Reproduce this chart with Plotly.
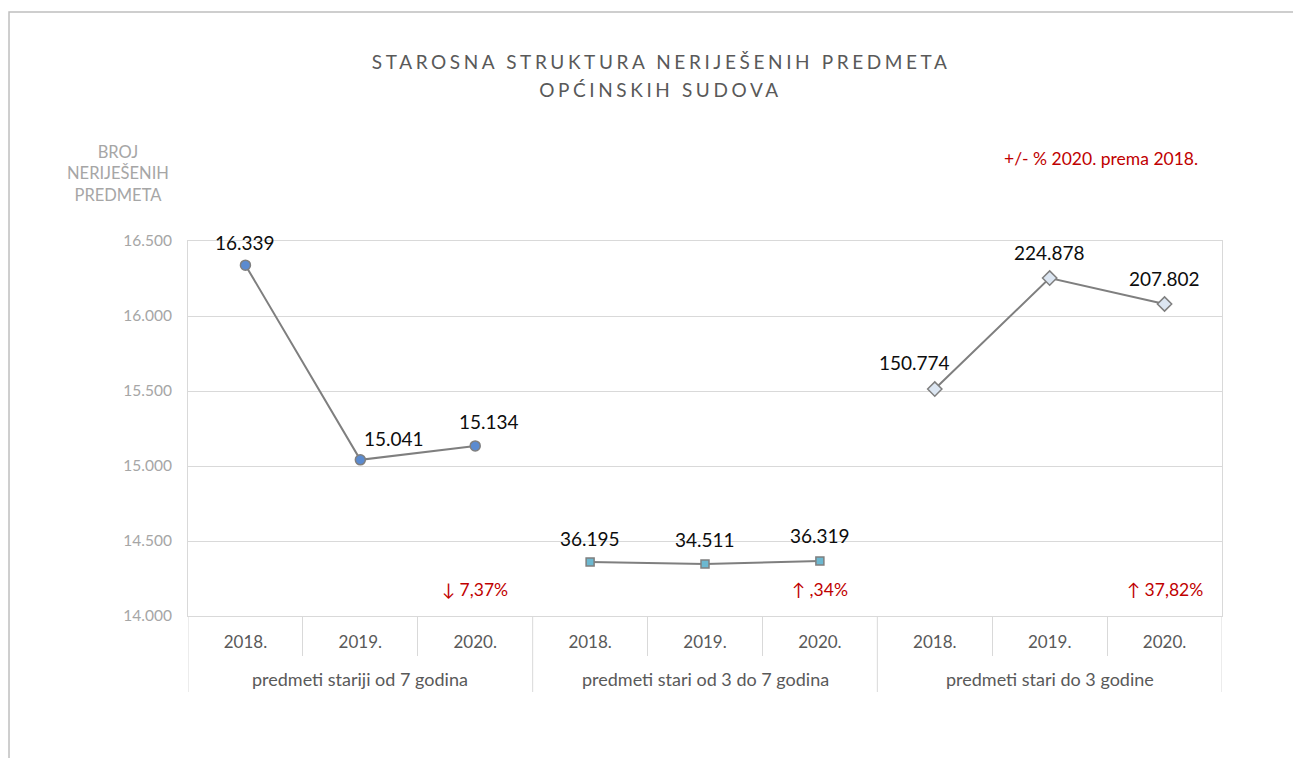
import plotly.graph_objects as go

# category structure
groups = ["predmeti stariji od 7 godina", "predmeti stari od 3 do 7 godina", "predmeti stari do 3 godine"]
years = ["2018.", "2019.", "2020."]

# plotted positions and the printed data labels
stariji_7_y = [16339, 15041, 15134]
stari_3_7_y = [14360, 14347, 14367]
do_3_y = [15513, 16253, 16080]
stariji_7_labels = ["16.339", "15.041", "15.134"]
stari_3_7_labels = ["36.195", "34.511", "36.319"]
do_3_labels = ["150.774", "224.878", "207.802"]
changes = ["\u2193 7,37%", "\u2191 ,34%", "\u2191 37,82%"]
change_level = 14180

LINE_GREY = "#7F7F7F"
GRID = "#D9D9D9"
FONT = "Lato"

fig = go.Figure()

series = [
    (stariji_7_y, stariji_7_labels, "circle", 10, "#5B8BD0", [(0, 23), (34, 21), (14, 24)]),
    (stari_3_7_y, stari_3_7_labels, "square", 8, "#6CB8D0", [(0, 24), (0, 24), (0, 25)]),
    (do_3_y, do_3_labels, "diamond", 11, "#DCE6F2", [(-20, 27), (0, 26), (0, 26)]),
]

n_years = len(years)
for g, (ys, labels, symbol, size, fill, shifts) in enumerate(series):
    xs = [g * n_years + i for i in range(n_years)]
    fig.add_trace(go.Scatter(
        x=xs, y=ys, mode="lines+markers",
        line=dict(color=LINE_GREY, width=2),
        marker=dict(symbol=symbol, size=size, color=fill, line=dict(color=LINE_GREY, width=1.5)),
        showlegend=False, hoverinfo="skip",
    ))
    # data labels
    for x, y, lab, (dx, dy) in zip(xs, ys, labels, shifts):
        fig.add_annotation(x=x, y=y, text=lab, showarrow=False, xshift=dx, yshift=dy,
                           xanchor="center", yanchor="middle",
                           font=dict(family=FONT, size=19, color="#0D0D0D"))
    # red change note under the 2020 point
    fig.add_annotation(x=xs[-1], y=change_level, text=changes[g], showarrow=False,
                       xanchor="center", yanchor="middle",
                       font=dict(family=FONT, size=17.5, color="#C00000"))
    # group label under the years
    fig.add_annotation(x=xs[1], y=0, xref="x", yref="paper", yshift=-63, text=groups[g],
                       xanchor="center", yanchor="middle", showarrow=False,
                       font=dict(family=FONT, size=18, color="#595959"))

n_cat = len(groups) * n_years
boundaries = [i - 0.5 for i in range(n_cat + 1)]
group_bounds = [b for i, b in enumerate(boundaries) if i % n_years == 0]
year_bounds = [b for i, b in enumerate(boundaries) if i % n_years != 0]

for b in group_bounds:
    fig.add_shape(type="line", xref="x", yref="paper", x0=b, x1=b, y0=0, y1=-76 / 375,
                  line=dict(color=GRID, width=1))

# outer chart frame
fig.add_shape(type="rect", xref="paper", yref="paper", x0=-0.1731, x1=1.1, y0=1.6107, y1=-0.45,
              line=dict(color="#BFBFBF", width=1.5))

# titles
for txt, ty in [("STAROSNA STRUKTURA NERIJEŠENIH PREDMETA", 1.48), ("OPĆINSKIH SUDOVA", 1.4027)]:
    fig.add_annotation(x=0.4574, y=ty, xref="paper", yref="paper", text=txt, showarrow=False,
                       xanchor="center", yanchor="middle",
                       font=dict(family=FONT, size=19, color="#595959"))
fig.add_annotation(x=-0.068, y=1.181, xref="paper", yref="paper", text="BROJ<br>NERIJEŠENIH<br>PREDMETA",
                   xanchor="center", yanchor="middle", showarrow=False,
                   font=dict(family=FONT, size=16.5, color="#A6A6A6"))
fig.add_annotation(x=0.9787, y=1.2213, xref="paper", yref="paper", xanchor="right", yanchor="middle",
                   text="+/- % 2020. prema 2018.", showarrow=False,
                   font=dict(family=FONT, size=17.5, color="#C00000"))

# page body has an 8px margin, so the margins are trimmed by that amount
fig.update_layout(
    width=1301, height=758,
    margin=dict(l=180, r=87, t=233, b=150),
    paper_bgcolor="white", plot_bgcolor="white",
    separators=",.",
    font=dict(family=FONT),
    xaxis=dict(
        range=[-0.5, n_cat - 0.5], tickmode="array", tickvals=list(range(n_cat)),
        ticktext=years * len(groups), ticks="", showgrid=False, zeroline=False,
        showline=True, linecolor=GRID, mirror=True, ticklabelstandoff=11,
        tickfont=dict(family=FONT, size=17, color="#595959"),
        minor=dict(tickmode="array", tickvals=year_bounds, ticks="outside", ticklen=39,
                   tickcolor=GRID, tickwidth=1, showgrid=False),
    ),
    yaxis=dict(
        range=[14000, 16500], dtick=500, tickformat=",d", showgrid=True, gridcolor=GRID,
        zeroline=False, showline=True, linecolor=GRID, mirror=True, ticks="",
        ticklabelstandoff=12, tickfont=dict(family=FONT, size=15.5, color="#A6A6A6"),
    ),
)

post = """
document.querySelectorAll('.annotation-text').forEach(function(t){
  var s = t.textContent;
  if (s.indexOf('STAROSNA') === 0 || s.indexOf('OP') === 0) { t.style.letterSpacing = '3.6px'; }
});
"""

fig.write_html("out.html", post_script=post)
